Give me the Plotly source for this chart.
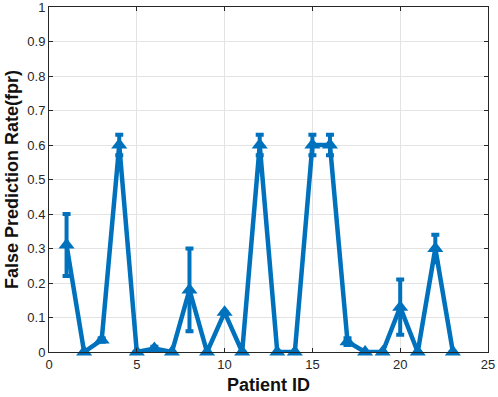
import plotly.graph_objects as go

patient_id = list(range(1, 24))
fpr = [0.31, 0.0, 0.035, 0.60, 0.0, 0.01, 0.0, 0.18, 0.0, 0.115, 0.0, 0.60,
       0.0, 0.0, 0.60, 0.60, 0.03, 0.0, 0.0, 0.13, 0.0, 0.30, 0.0]
err = [0.09, 0.0, 0.005, 0.03, 0.0, 0.005, 0.0, 0.12, 0.0, 0.0, 0.0, 0.03,
       0.0, 0.0, 0.03, 0.03, 0.01, 0.0, 0.0, 0.08, 0.0, 0.04, 0.0]
x_ticks = [0, 5, 10, 15, 20, 25]
y_ticks = [0, 0.1, 0.2, 0.3, 0.4, 0.5, 0.6, 0.7, 0.8, 0.9, 1]
y_ticktext = ["0", "0.1", "0.2", "0.3", "0.4", "0.5", "0.6", "0.7", "0.8", "0.9", "1"]

blue = "#0072BD"
fig = go.Figure()
fig.add_trace(go.Scatter(
    x=patient_id, y=fpr, mode="lines+markers",
    line=dict(color=blue, width=4.5),
    marker=dict(symbol="triangle-up", size=14, color=blue),
    error_y=dict(type="data", array=err, visible=True, color=blue, thickness=4, width=4),
    cliponaxis=False,
))

axis_common = dict(
    showgrid=True, gridcolor="#e3e3e3", gridwidth=1,
    showline=True, linecolor="#262626", linewidth=1, mirror="ticks",
    ticks="inside", ticklen=4, tickcolor="#262626",
    tickfont=dict(family="Liberation Sans, Arial", size=13, color="#262626"),
    zeroline=False, automargin=False, ticklabeloverflow="allow",
)
fig.update_xaxes(range=[0, 25], tickvals=x_ticks, **axis_common,
                 title=dict(text="<b>Patient ID</b>", standoff=7,
                            font=dict(family="Liberation Sans, Arial", size=18, color="#111111")))
fig.update_yaxes(range=[0, 1], tickvals=y_ticks, ticktext=y_ticktext, **axis_common,
                 title=dict(text="<b>False Prediction Rate(fpr)</b>", standoff=4,
                            font=dict(family="Liberation Sans, Arial", size=18, color="#111111")))
fig.update_layout(
    width=498, height=397, margin=dict(l=49, r=10, t=7, b=45),
    paper_bgcolor="white", plot_bgcolor="white", showlegend=False,
)
fig.write_html("out.html", config={"displayModeBar": False},
               post_script="document.body.style.margin='0';document.body.style.overflow='hidden';")
